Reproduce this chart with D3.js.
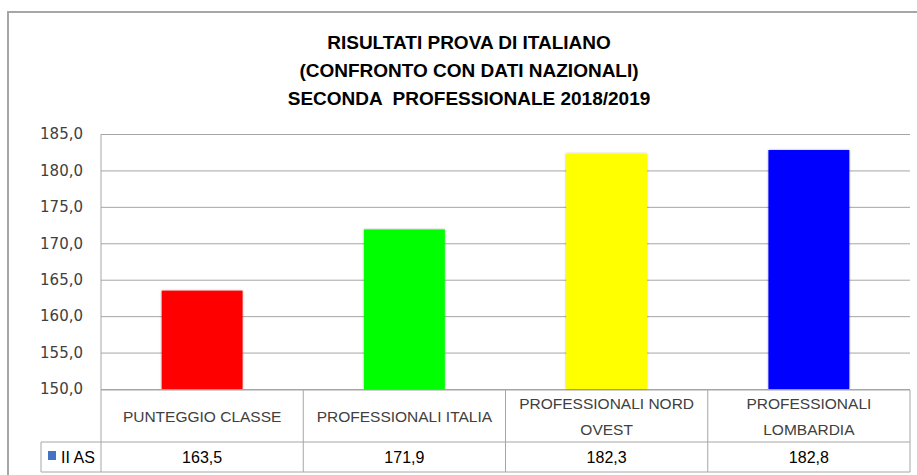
<!DOCTYPE html>
<html>
<head>
<meta charset="utf-8">
<script src="https://cdn.jsdelivr.net/npm/d3@7"></script>
<style>
  body { margin: 0; background: #fff; }
  text { fill: #404040; }
</style>
</head>
<body>
<svg width="917" height="475"></svg>
<script>
// data
var categories = [['PUNTEGGIO CLASSE'], ['PROFESSIONALI ITALIA'], ['PROFESSIONALI NORD', 'OVEST'], ['PROFESSIONALI', 'LOMBARDIA']];
var values = [163.5, 171.9, 182.3, 182.8];
var barColors = ['#ff0000', '#00ff00', '#ffff00', '#0000ff'];
var yTicks = [150, 155, 160, 165, 170, 175, 180, 185];
var seriesName = 'II AS';
var titleLines = ['RISULTATI PROVA DI ITALIANO', '(CONFRONTO CON DATI NAZIONALI)', 'SECONDA  PROFESSIONALE 2018/2019'];

var it = d3.formatLocale({decimal: ',', thousands: '.', grouping: [3], currency: ['€', '']});
var fmt = it.format('.1f');

var svg = d3.select('svg');
var narrow = '"Liberation Sans Narrow", "Liberation Sans", sans-serif';

var plotLeft = 101, plotRight = 910, plotTop = 134, plotBottom = 389;

// frame
svg.append('path')
  .attr('d', 'M8,475 V12 H917')
  .attr('fill', 'none')
  .attr('stroke', '#a6a6a6')
  .attr('stroke-width', 2);

// title
svg.append('g').selectAll('text')
  .data(titleLines)
  .enter().append('text')
  .attr('x', 469)
  .attr('y', (d, i) => 49 + i * 28)
  .attr('text-anchor', 'middle')
  .style('font-family', narrow)
  .style('font-weight', 'bold')
  .style('font-size', '19px')
  .style('fill', '#000')
  .style('white-space', 'pre')
  .text(d => d);

var ids = categories.map((d, i) => i);
var x = d3.scaleBand().domain(ids).range([plotLeft, plotRight]).paddingInner(0.6).paddingOuter(0.3);
var col = d3.scaleBand().domain(ids).range([plotLeft, plotRight]);
var y = d3.scaleLinear().domain([150, 185]).range([plotBottom, plotTop]);

// gridlines + y labels
var yAxis = svg.append('g')
  .attr('transform', `translate(${plotLeft},0)`)
  .call(d3.axisLeft(y).tickValues(yTicks).tickSize(-(plotRight - plotLeft)).tickPadding(18).tickFormat(fmt));
yAxis.select('.domain').remove();
yAxis.selectAll('line').attr('stroke', '#a6a6a6');
yAxis.selectAll('text')
  .style('font-family', '"DejaVu Sans", sans-serif')
  .style('font-size', '15px')
  .style('fill', '#404040');

svg.append('line')
  .attr('x1', plotLeft).attr('x2', plotLeft)
  .attr('y1', plotTop).attr('y2', 472)
  .attr('stroke', '#a6a6a6');

// bars
var defs = svg.append('defs');
var f = defs.append('filter').attr('id', 'sh').attr('x', '-10%').attr('y', '-10%').attr('width', '120%').attr('height', '120%');
f.append('feDropShadow').attr('dx', 0).attr('dy', 0).attr('stdDeviation', 1.2).attr('flood-color', '#000').attr('flood-opacity', 0.35);

svg.append('g').selectAll('rect')
  .data(values)
  .enter().append('rect')
  .attr('x', (d, i) => x(i))
  .attr('y', d => y(d))
  .attr('width', x.bandwidth())
  .attr('height', d => y(150) - y(d))
  .attr('fill', (d, i) => barColors[i])
  .attr('filter', 'url(#sh)');

// data table
var tTop = 390, tMid = 442, tBot = 472, keyLeft = 41;
var grid = svg.append('g').attr('stroke', '#a6a6a6').attr('fill', 'none');
grid.append('line').attr('x1', plotLeft).attr('x2', plotRight).attr('y1', tTop).attr('y2', tTop);
grid.append('line').attr('x1', keyLeft).attr('x2', plotRight).attr('y1', tMid).attr('y2', tMid);
grid.append('line').attr('x1', keyLeft).attr('x2', plotRight).attr('y1', tBot).attr('y2', tBot);
grid.append('line').attr('x1', keyLeft).attr('x2', keyLeft).attr('y1', tMid).attr('y2', tBot);
grid.selectAll('.vcol')
  .data(ids)
  .enter().append('line')
  .attr('x1', d => col(d) + col.bandwidth())
  .attr('x2', d => col(d) + col.bandwidth())
  .attr('y1', tTop).attr('y2', tBot);

var cat = svg.append('g').selectAll('text')
  .data(categories)
  .enter().append('text')
  .attr('text-anchor', 'middle')
  .attr('x', (d, i) => col(i) + col.bandwidth() / 2)
  .attr('y', d => d.length === 1 ? 422 : 409)
  .style('font-family', narrow)
  .style('font-size', '15.5px');
cat.selectAll('tspan')
  .data(d => d)
  .enter().append('tspan')
  .attr('x', function() { return this.parentNode.getAttribute('x'); })
  .attr('dy', (d, i) => i ? 26 : 0)
  .text(d => d);

svg.append('g').selectAll('text')
  .data(values)
  .enter().append('text')
  .attr('text-anchor', 'middle')
  .attr('x', (d, i) => col(i) + col.bandwidth() / 2)
  .attr('y', 463)
  .style('font-family', narrow)
  .style('font-size', '16px')
  .style('fill', '#000')
  .text(d => fmt(d));

svg.append('rect')
  .attr('x', 48).attr('y', 451).attr('width', 8).attr('height', 9)
  .attr('fill', '#4472c4');
svg.append('text')
  .attr('x', 61).attr('y', 463)
  .style('font-family', narrow)
  .style('font-size', '16px')
  .style('fill', '#000')
  .text(seriesName);
</script>
</body>
</html>
